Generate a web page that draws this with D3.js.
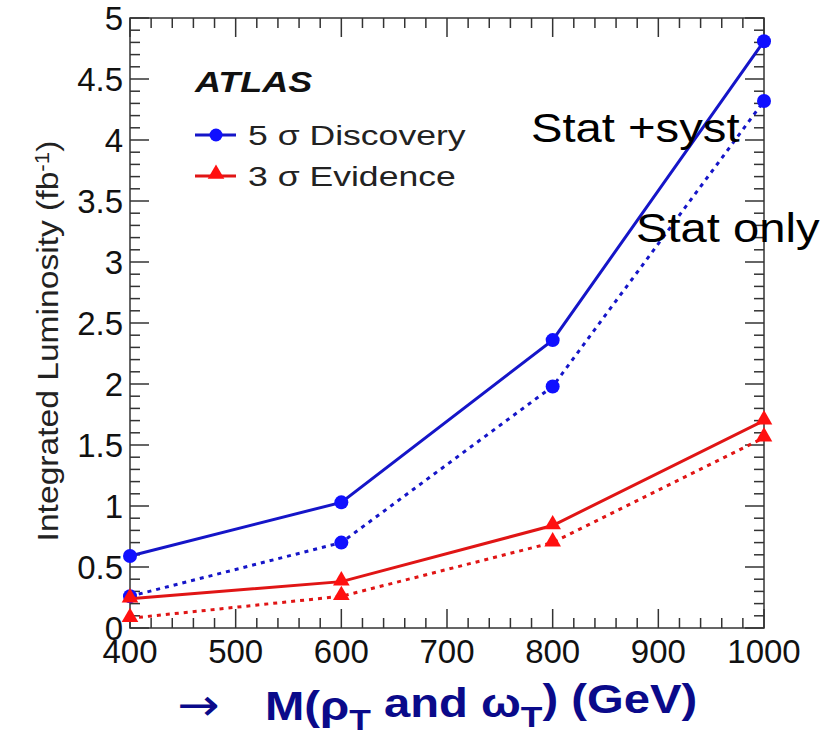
<!DOCTYPE html>
<html>
<head>
<meta charset="utf-8">
<script src="https://cdn.jsdelivr.net/npm/d3@7"></script>
<style>
  body { margin: 0; background: #fff; }
  text { font-family: "Liberation Sans", Arial, sans-serif; }
</style>
</head>
<body>
<div id="chart"></div>
<script>
// masses (GeV)
const masses = [400, 600, 800, 1000];
// 5 sigma discovery, stat + syst / stat only
const disc5Syst = [0.59, 1.03, 2.36, 4.81];
const disc5Stat = [0.26, 0.70, 1.98, 4.32];
// 3 sigma evidence, stat + syst / stat only
const evid3Syst = [0.24, 0.38, 0.84, 1.70];
const evid3Stat = [0.08, 0.26, 0.70, 1.56];

const xTicks = [400, 500, 600, 700, 800, 900, 1000];
const yTicks = [0, 0.5, 1, 1.5, 2, 2.5, 3, 3.5, 4, 4.5, 5];

const width = 838, height = 736;
const margins = { top: 18, right: 74, bottom: 108, left: 130 };

const svg = d3.select("#chart")
  .append("svg")
  .attr("width", width)
  .attr("height", height);

const xScale = d3.scaleLinear()
  .domain([400, 1000])
  .range([margins.left, width - margins.right]);

const yScale = d3.scaleLinear()
  .domain([0, 5])
  .range([height - margins.bottom, margins.top]);

const blue = "#1515c8", red = "#e01515";

// the picture's text is a bit wider than the font, so stretch it sideways
const place = (x, y, sx) => `translate(${x},${y}) scale(${sx},1)`;

// frame
svg.append("rect")
  .attr("x", xScale(400)).attr("y", yScale(5))
  .attr("width", xScale(1000) - xScale(400))
  .attr("height", yScale(0) - yScale(5))
  .attr("fill", "none")
  .attr("stroke", "#333")
  .attr("stroke-width", 1.5);

// ticks on all four sides (pointing inside), ROOT style
const xMinor = d3.range(400, 1001, 20);
const yMinor = d3.range(0, 5.001, 0.1);
const isMajorX = v => xTicks.includes(v);
const isMajorY = v => yTicks.some(t => Math.abs(t - v) < 1e-6);

const tickG = svg.append("g").attr("stroke", "#333").attr("stroke-width", 1.5);
xMinor.forEach(v => {
  const len = isMajorX(v) ? 19 : 10;
  tickG.append("line").attr("x1", xScale(v)).attr("x2", xScale(v))
    .attr("y1", yScale(0)).attr("y2", yScale(0) - len);
  tickG.append("line").attr("x1", xScale(v)).attr("x2", xScale(v))
    .attr("y1", yScale(5)).attr("y2", yScale(5) + len);
});
yMinor.forEach(v => {
  const len = isMajorY(v) ? 19 : 10;
  tickG.append("line").attr("y1", yScale(v)).attr("y2", yScale(v))
    .attr("x1", xScale(400)).attr("x2", xScale(400) + len);
  tickG.append("line").attr("y1", yScale(v)).attr("y2", yScale(v))
    .attr("x1", xScale(1000)).attr("x2", xScale(1000) - len);
});

// tick labels
svg.append("g")
  .selectAll("text")
  .data(yTicks)
  .join("text")
  .attr("x", xScale(400) - 7)
  .attr("y", d => yScale(d))
  .attr("dy", "0.36em")
  .attr("text-anchor", "end")
  .style("font-size", "33px")
  .attr("fill", "#111")
  .text(d => d);

svg.append("g")
  .selectAll("text")
  .data(xTicks)
  .join("text")
  .attr("x", d => xScale(d))
  .attr("y", yScale(0) + 35)
  .attr("text-anchor", "middle")
  .style("font-size", "33px")
  .attr("fill", "#111")
  .text(d => d);

// y axis title
const yTitle = svg.append("text")
  .attr("transform", `translate(58, 341) rotate(-90) scale(1.12,1)`)
  .attr("text-anchor", "middle")
  .style("font-size", "30px")
  .attr("fill", "#222");
yTitle.append("tspan").text("Integrated Luminosity (fb");
yTitle.append("tspan").attr("dy", "-0.45em").style("font-size", "20px").text("-1");
yTitle.append("tspan").attr("dy", "0.3em").text(")");

// lines
const line = d3.line()
  .x((d, i) => xScale(masses[i]))
  .y(d => yScale(d));

const series = [
  { values: disc5Syst, color: blue, dash: null, marker: "circle" },
  { values: disc5Stat, color: blue, dash: "4 5", marker: "circle" },
  { values: evid3Syst, color: red, dash: null, marker: "triangle" },
  { values: evid3Stat, color: red, dash: "4 5", marker: "triangle" }
];

const triangle = d3.symbol().type(d3.symbolTriangle).size(120);

series.forEach(s => {
  svg.append("path")
    .datum(s.values)
    .attr("d", line)
    .attr("fill", "none")
    .attr("stroke", s.color)
    .attr("stroke-width", 3)
    .attr("stroke-dasharray", s.dash);

  const pts = svg.append("g")
    .selectAll(s.marker === "circle" ? "circle" : "path")
    .data(s.values)
    .join(s.marker === "circle" ? "circle" : "path");
  if (s.marker === "circle") {
    pts.attr("cx", (d, i) => xScale(masses[i]))
      .attr("cy", d => yScale(d))
      .attr("r", 7)
      .attr("fill", "#1010ff");
  } else {
    pts.attr("d", triangle)
      .attr("transform", (d, i) => `translate(${xScale(masses[i])},${yScale(d) - 1})`)
      .attr("fill", "#ff1010");
  }
});

// legend
svg.append("text")
  .attr("transform", place(195, 92, 1.2))
  .style("font-size", "30px")
  .style("font-weight", "bold")
  .style("font-style", "italic")
  .attr("fill", "#111")
  .text("ATLAS");

const legend = [
  { label: "5 \u03c3 Discovery", color: blue, marker: "circle", y: 135 },
  { label: "3 \u03c3 Evidence", color: red, marker: "triangle", y: 176 }
];
legend.forEach(l => {
  svg.append("line")
    .attr("x1", 195).attr("x2", 236)
    .attr("y1", l.y).attr("y2", l.y)
    .attr("stroke", l.color).attr("stroke-width", 3);
  if (l.marker === "circle") {
    svg.append("circle").attr("cx", 216).attr("cy", l.y).attr("r", 6.5).attr("fill", "#1010ff");
  } else {
    svg.append("path").attr("d", triangle).attr("transform", `translate(216,${l.y - 2})`).attr("fill", "#ff1010");
  }
  svg.append("text")
    .attr("transform", place(248, l.y + 10, 1.27))
    .style("font-size", "28px")
    .attr("fill", "#222")
    .text(l.label);
});

// annotations
svg.append("text")
  .attr("transform", place(531, 142, 1.18))
  .style("font-size", "40px")
  .attr("fill", "#000")
  .text("Stat +syst");
svg.append("text")
  .attr("transform", place(636, 242, 1.18))
  .style("font-size", "40px")
  .attr("fill", "#000")
  .text("Stat only");

// x axis title
svg.append("text")
  .attr("transform", place(177, 720, 1.15))
  .style("font-family", "'DejaVu Sans', sans-serif")
  .style("font-size", "44px")
  .attr("fill", "#0a0a8a")
  .text("\u2192");
const xTitle = svg.append("text")
  .attr("transform", place(265, 720, 1.18))
  .style("font-size", "40px")
  .style("font-weight", "bold")
  .attr("fill", "#0a0a8a");
xTitle.append("tspan").text("M(\u03c1");
xTitle.append("tspan").attr("dy", "0.33em").style("font-size", "30px").text("T");
xTitle.append("tspan").attr("dy", "-0.33em").text(" and \u03c9");
xTitle.append("tspan").attr("dy", "0.33em").style("font-size", "30px").text("T");
xTitle.append("tspan").attr("dy", "-0.33em").text(") (GeV)");
</script>
</body>
</html>
